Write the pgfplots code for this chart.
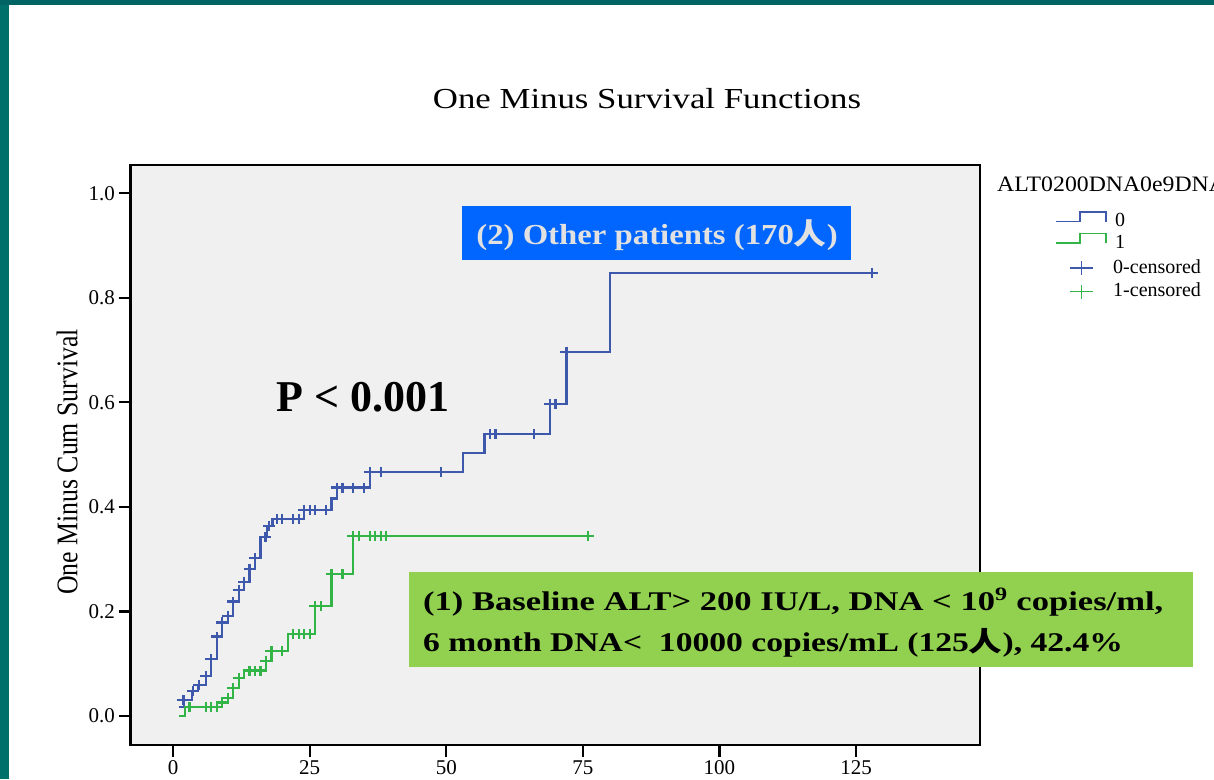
\documentclass[border=0pt]{standalone}
\usepackage{pgfplots}
\pgfplotsset{compat=1.18}
\usepackage{fontspec}
\setmainfont{Liberation Serif}
\newfontfamily\cjk{Noto Sans CJK SC}
\definecolor{kmblue}{RGB}{62,88,172}
\definecolor{kmgreen}{RGB}{50,180,70}
\definecolor{plotbg}{RGB}{240,240,240}
\definecolor{tealA}{RGB}{0,112,106}
\definecolor{tealB}{RGB}{0,100,100}
\definecolor{boxblue}{RGB}{0,102,255}
\definecolor{boxgreen}{RGB}{146,208,80}
\definecolor{boxtext}{RGB}{225,225,225}
\begin{document}
\begin{tikzpicture}[x=1pt,y=1pt]
\path[use as bounding box] (0pt,0pt) rectangle (1214pt,779pt);
\fill[white] (0pt,0pt) rectangle (1214pt,779pt);
\fill[tealA] (0pt,0pt) rectangle (9pt,779pt);
\fill[tealB] (0pt,774pt) rectangle (1214pt,779pt);
\begin{axis}[
  at={(130.5pt,34pt)}, anchor=south west,
  width=849.5pt, height=580pt, scale only axis,
  xmin=-7.8, xmax=147.7, ymin=-0.0554, ymax=1.054,
  axis background/.style={fill=plotbg},
  axis line style={line width=2.4pt, black},
  xtick={0,25,50,75,100,125},
  ytick={0,0.2,0.4,0.6,0.8,1.0},
  y tick label style={/pgf/number format/fixed,/pgf/number format/fixed zerofill,/pgf/number format/precision=1},
  tick align=outside,
  major tick length=12pt,
  tick style={line width=2.2pt, black},
  tick pos=left,
  ticklabel style={font=\fontsize{21}{21}\selectfont},
  /pgf/number format/assume math mode=true,
]
\addplot[const plot, kmgreen, line width=2.2pt] coordinates {
(1,0) (2.2,0.017) (9,0.026) (10,0.034) (11,0.053) (12,0.072) (13,0.087) (17,0.106) (18,0.125) (21,0.157) (26,0.21) (29,0.272) (33,0.345) (76,0.345)};
\addplot[const plot, kmblue, line width=2.2pt] coordinates {
(1,0.018) (2,0.030) (3.5,0.048) (4.6,0.059) (6,0.077) (7,0.109) (8,0.152) (9,0.179) (10,0.192) (11,0.219) (12,0.241) (13,0.257) (14,0.282) (15,0.302) (16,0.343) (17.2,0.364) (18.2,0.377) (24,0.394) (29,0.416) (30,0.437) (36,0.467) (53,0.503) (57,0.539) (69,0.597) (72,0.697) (80,0.848) (128,0.848)};
\addplot[only marks, mark=+, mark size=5pt, mark options={kmgreen, line width=2.2pt, xscale=1.2}] coordinates {
(3,0.017) (6,0.017) (7,0.017) (8,0.017) (9,0.026) (10,0.034) (11,0.053) (12,0.072) (14,0.087) (15,0.087) (16,0.087) (17,0.106) (18,0.125) (20,0.125) (22,0.157) (23,0.157) (24,0.157) (25,0.157) (26,0.21) (27,0.21) (29,0.272) (31,0.272) (33,0.345) (34,0.345) (36,0.345) (37,0.345) (38,0.345) (39,0.345) (76,0.345)};
\addplot[only marks, mark=+, mark size=5pt, mark options={kmblue, line width=2.2pt, xscale=1.2}] coordinates {
(1.9,0.030) (3.6,0.048) (4.7,0.059) (6,0.077) (7,0.109) (8,0.152) (9,0.179) (10,0.192) (11,0.219) (12,0.241) (13,0.257) (14,0.282) (15,0.302) (16.9,0.343) (17.6,0.364) (19,0.377) (20,0.377) (22,0.377) (23,0.377) (24,0.394) (25,0.394) (26,0.394) (28,0.394) (30,0.437) (31,0.437) (33,0.437) (35,0.437) (36,0.467) (38,0.467) (49,0.467) (58,0.539) (59,0.539) (66,0.539) (69,0.597) (70,0.597) (72,0.697) (128,0.848)};
\end{axis}
% title
\node[anchor=base, font=\fontsize{29}{29}\selectfont] at (647pt,670pt) {\scalebox{1.2}[1]{One Minus Survival Functions}};
% y label
\node[rotate=90, font=\fontsize{30}{30}\selectfont] at (67pt,317pt) {\scalebox{0.86}[1]{One Minus Cum Survival}};
% P value
\node[anchor=base west, font=\fontsize{44}{44}\selectfont\bfseries, inner sep=0pt] at (276pt,367pt) {P < 0.001};
% blue box
\fill[boxblue] (462pt,519pt) rectangle (851pt,573pt);
\node[anchor=base, text=boxtext, font=\fontsize{29}{29}\selectfont\bfseries] at (657pt,534pt) {\scalebox{1.13}[1]{(2) Other patients (170{\cjk\bfseries 人})}};
% green box
\fill[boxgreen] (409pt,112pt) rectangle (1193pt,207pt);
\node[anchor=base west, inner sep=0pt, font=\fontsize{27}{27}\selectfont\bfseries] at (423pt,169pt) {\scalebox{1.28}[1]{(1) Baseline ALT> 200 IU/L, DNA < 10\textsuperscript{9} copies/ml,}};
\node[anchor=base west, inner sep=0pt, font=\fontsize{27}{27}\selectfont\bfseries] at (423pt,128pt) {\scalebox{1.245}[1]{6 month DNA<\ \ 10000 copies/mL (125{\cjk\bfseries 人}), 42.4\%}};
% legend
\node[anchor=base west, inner sep=0pt, font=\fontsize{22}{22}\selectfont] at (997pt,587pt) {\scalebox{1.08}[1]{ALT0200DNA0e9DNA}};
\draw[kmblue, line width=1.6pt] (1056pt,557.3pt) -- (1080pt,557.3pt) -- (1080pt,566.7pt) -- (1106pt,566.7pt) -- (1106pt,557.3pt);
\draw[kmgreen, line width=1.6pt] (1056pt,535.7pt) -- (1080pt,535.7pt) -- (1080pt,545.3pt) -- (1106pt,545.3pt) -- (1106pt,535.7pt);
\node[anchor=base west, inner sep=0pt, font=\fontsize{20}{20}\selectfont] at (1115pt,552pt) {0};
\node[anchor=base west, inner sep=0pt, font=\fontsize{20}{20}\selectfont] at (1115pt,530pt) {1};
\draw[kmblue, line width=1.6pt] (1070pt,511pt) -- (1093pt,511pt) (1081.5pt,504pt) -- (1081.5pt,518pt);
\draw[kmgreen, line width=1.6pt] (1070pt,487.3pt) -- (1093pt,487.3pt) (1081.5pt,480.3pt) -- (1081.5pt,494.3pt);
\node[anchor=base west, inner sep=0pt, font=\fontsize{20}{20}\selectfont] at (1113pt,505pt) {0-censored};
\node[anchor=base west, inner sep=0pt, font=\fontsize{20}{20}\selectfont] at (1113pt,482pt) {1-censored};
\end{tikzpicture}
\end{document}
